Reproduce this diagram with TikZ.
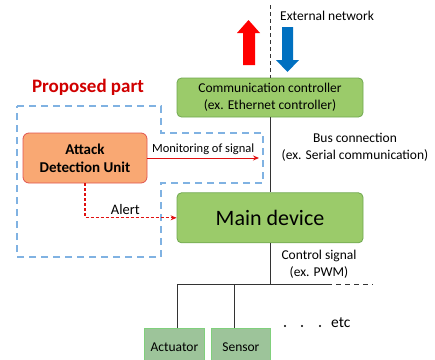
\documentclass[tikz,border=0pt]{standalone}
\usepackage{fontspec}
\setmainfont{Carlito}
\usepackage{xcolor}
\usepackage{tikz}
\usetikzlibrary{calc, arrows.meta, positioning}
\definecolor{boxgreen}{HTML}{9BCB6A}
\definecolor{boxgreenline}{HTML}{70A850}
\definecolor{iogreen}{HTML}{9DC49A}
\definecolor{iogreenline}{HTML}{80D07C}
\definecolor{aduorange}{HTML}{F9A873}
\definecolor{adured}{HTML}{E05550}
\definecolor{partblue}{HTML}{80B2E2}
\definecolor{netblue}{HTML}{0070C0}
\definecolor{labelred}{HTML}{D00000}
\definecolor{sigred}{HTML}{E01010}
\tikzset{
    greennode/.style = {draw=boxgreenline, fill=boxgreen, rectangle, rounded corners=0.45em, line width=0.8pt,
      inner sep=0pt, minimum width=186pt, align=center},
    iggreennode/.style = {draw=iogreenline, fill=iogreen, rectangle, line width=0.8pt, inner sep=0pt,
      minimum height=37pt, align=center, text depth=0pt},
    adunode/.style = {draw=adured, fill=aduorange, rectangle, rounded corners=0.6em, line width=0.8pt,
      inner sep=0pt, minimum width=124pt, minimum height=50pt, align=center, font=\fontsize{15}{18}\selectfont\bfseries},
    textnode/.style  = {draw=none, fill=none, inner sep=0pt, align=center, text=black, font=\fontsize{13.5}{17}\selectfont},
    wire/.style = {black!80, line width=1pt},
    redarrow/.style = {sigred, line width=0.9pt, -{Stealth[length=6pt,width=5pt]}},
    every text node part/.style={align=center}
}

\begin{document}
\begin{tikzpicture}[x=1pt, y=-1pt]
    \useasboundingbox (0,0) rectangle (435,359);

    % proposed part (blue dashed outline)
    \draw [partblue, line width=1.1pt, dash pattern=on 7pt off 5pt]
      (17,106) -- (161,106) -- (161,133) -- (263,133) -- (263,183) -- (161,183) -- (161,257) -- (17,257) -- cycle;
    \node [name=prop, textnode, text=labelred, font=\fontsize{19}{22}\selectfont\bfseries] at (88,87) {Proposed part};

    % external network
    \coordinate (nettop) at (270,5);
    \node [name=comm, greennode, minimum height=39pt, font=\fontsize{13.5}{17}\selectfont] at (270,97.5)
      {Communication controller\\(ex. Ethernet controller)};
    \draw [black!80, line width=1pt, dash pattern=on 4pt off 3pt] (nettop) -- (comm.north);
    \fill [red] (243,65) -- (243,33) -- (237,33) -- (248.5,20) -- (260,33) -- (255,33) -- (255,65) -- cycle;
    \fill [netblue] (282,27) -- (293,27) -- (293,60) -- (299,60) -- (287.5,72) -- (276,60) -- (282,60) -- cycle;
    \node [name=ext, textnode, anchor=west] at (280,16) {External network};

    % main device
    \node [name=main, greennode, minimum height=50pt, below=75pt of comm, font=\fontsize{22}{26}\selectfont] {Main device};
    \draw [wire] (comm.south) -- (main.north);
    \node [name=bus, textnode] at (355,147.5) {Bus connection\\(ex. Serial communication)};

    % attack detection unit
    \node [name=adu, adunode] at (85,158) {Attack\\Detection Unit};
    \coordinate (mon) at (259,158);
    \draw [redarrow] (adu.east) -- node [name=monlabel, textnode, above=3pt, font=\fontsize{12.5}{15}\selectfont] {Monitoring of signal} (mon);
    \draw [redarrow, line width=1.1pt, dash pattern=on 3pt off 2pt] (adu.south) |- node [name=alert, textnode, pos=0.72, above=3pt, font=\fontsize{14.5}{17}\selectfont] {Alert} (main.west);

    % control signals
    \coordinate (busmid) at (270,284);
    \coordinate (busleft) at (177,284);
    \coordinate (buscut) at (327,284);
    \coordinate (busend) at (373,284);
    \coordinate (sensdrop) at (234,284);
    \draw [wire] (main.south) -- (busmid);
    \draw [wire] (busleft) -- (buscut);
    \draw [wire, dash pattern=on 5pt off 4pt] (buscut) -- (busend);
    \node [name=ctrl, textnode] at (319,264.5) {Control signal\\(ex. PWM)};

    \node [name=act, iggreennode, minimum width=60pt, anchor=north west, font=\fontsize{13.5}{17}\selectfont] at (144,328) {Actuator};
    \node [name=sens, iggreennode, minimum width=59pt, anchor=north west, font=\fontsize{13.5}{17}\selectfont] at (211,328) {Sensor};
    \draw [wire] (busleft) -- (busleft |- act.north);
    \draw [wire] (sensdrop) -- (sensdrop |- sens.north);

    \foreach \dx in {285,302,320}
      \fill [black] (\dx,326) circle (1.1pt);
    \node [name=etc, textnode, anchor=west, font=\fontsize{15.5}{18}\selectfont] at (331,323) {etc};
\end{tikzpicture}
\end{document}
